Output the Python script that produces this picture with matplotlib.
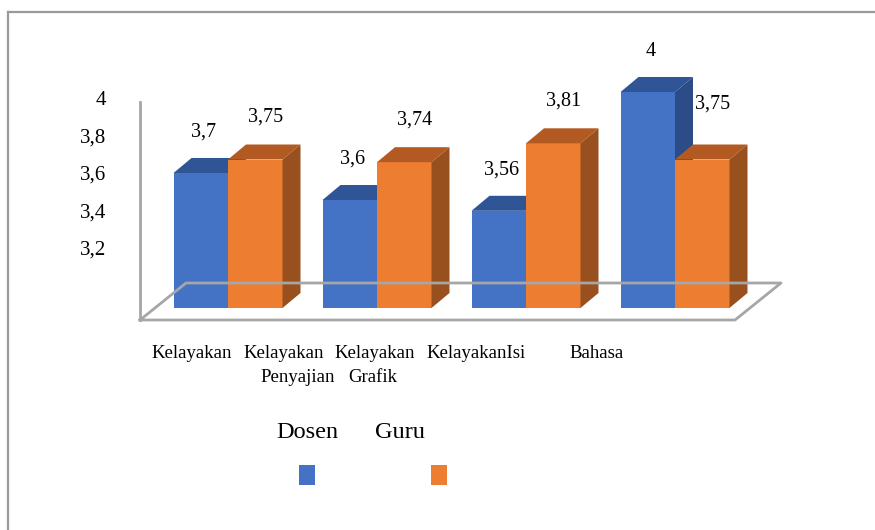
import matplotlib
matplotlib.use("Agg")
import matplotlib.pyplot as plt
from matplotlib.patches import Polygon, Rectangle
from matplotlib.lines import Line2D

# ---- data ----
series_names = ["Dosen", "Guru"]
dosen = [3.70, 3.60, 3.56, 4.00]
guru = [3.75, 3.74, 3.81, 3.75]
dosen_labels = ["3,7", "3,6", "3,56", "4"]
guru_labels = ["3,75", "3,74", "3,81", "3,75"]
tick_values = [3.2, 3.4, 3.6, 3.8, 4.0]
tick_labels = ["3,2", "3,4", "3,6", "3,8", "4"]
category_line1 = ["Kelayakan", "Kelayakan", "Kelayakan", "KelayakanIsi", "Bahasa"]
category_line2 = ["", "Penyajian", "Grafik", "", ""]

# ---- style ----
W, H = 875, 530
FONT = "Liberation Serif"
front_cols = ["#4472C4", "#ED7D31"]
top_cols = ["#2F5597", "#B35A22"]
side_cols = ["#2B4C86", "#99501F"]
grid_col = "#A6A6A6"

def fx(px):
    return px / W

def fy(py):
    return 1 - py / H

fig = plt.figure(figsize=(W / 100, H / 100), dpi=100)
fig.patch.set_facecolor("white")

# main axes: x = category index, y = value
ax = fig.add_axes([0, 0, 1, 1])
ax.set_xlim(-228 / 149, (W - 228) / 149)
base = 3.2
kpx = 270.0
ax.set_ylim(base - (H - 308) / kpx, base + 308 / kpx)
ax.axis("off")

bw = 54.5 / 149
ddx = 18 / 149
ddy = 15 / kpx

# floor / wall decorations (in figure fraction)
floor = [(140, 320), (735, 320), (781, 283), (186, 283), (140, 320)]
fig.add_artist(Line2D([fx(p[0]) for p in floor], [fy(p[1]) for p in floor],
                      color=grid_col, lw=2.0, zorder=1))
fig.add_artist(Line2D([fx(140), fx(140)], [fy(102), fy(320)], color=grid_col, lw=2.0, zorder=1))
# outer border (top and left visible)
fig.add_artist(Line2D([fx(8), fx(W)], [fy(12), fy(12)], color="#9A9A9A", lw=1.6, zorder=1))
fig.add_artist(Line2D([fx(8), fx(8)], [fy(12), fy(H)], color="#9A9A9A", lw=1.6, zorder=1))

def draw_bar(xc, val, si, z):
    xl, xr = xc - bw / 2, xc + bw / 2
    ax.bar(xc, val - base, bottom=base, width=bw, color=front_cols[si], zorder=z, linewidth=0)
    ax.add_patch(Polygon([(xl, val), (xr, val), (xr + ddx, val + ddy), (xl + ddx, val + ddy)],
                         closed=True, facecolor=top_cols[si], edgecolor="none", zorder=z))
    ax.add_patch(Polygon([(xr, base), (xr + ddx, base + ddy), (xr + ddx, val + ddy), (xr, val)],
                         closed=True, facecolor=side_cols[si], edgecolor="none", zorder=z))

for i, (d, g) in enumerate(zip(dosen, guru)):
    draw_bar(i - bw / 2, d, 0, 3 + 2 * i)
    draw_bar(i + bw / 2, g, 1, 4 + 2 * i)

# value labels
for i, (d, g) in enumerate(zip(dosen, guru)):
    ax.annotate(dosen_labels[i], xy=(i - bw / 2, d), xytext=(3 * 0.72, 41 * 0.72),
                textcoords="offset points", ha="center", va="center",
                fontsize=14.5, family=FONT, zorder=20)
    extra = 13 if i == len(guru) - 1 else 0
    ax.annotate(guru_labels[i], xy=(i + bw / 2, g), xytext=(10 * 0.72, (42 + extra) * 0.72),
                textcoords="offset points", ha="center", va="center",
                fontsize=14.5, family=FONT, zorder=20)

# value-axis tick labels (back-wall scale)
ax2 = fig.add_axes([fx(113), 0, 0.01, 1])
ax2.set_ylim(3.2 - (H - 248) / 187.5, 3.2 + 248 / 187.5)
ax2.set_yticks(tick_values)
ax2.set_yticklabels(tick_labels, family=FONT, fontsize=15)
ax2.tick_params(axis="y", length=0, pad=5)
ax2.set_xticks([])
for s in ax2.spines.values():
    s.set_visible(False)
ax2.patch.set_alpha(0)

# category labels (two rows, as laid out in the reference)
line1_x = [192, 284, 375, 476, 597]
line2_x = [0, 298, 373, 0, 0]
for t1, t2, x1, x2 in zip(category_line1, category_line2, line1_x, line2_x):
    fig.text(fx(x1), fy(353), t1, ha="center", va="center", fontsize=13.5, family=FONT)
    if t2:
        fig.text(fx(x2), fy(378), t2, ha="center", va="center", fontsize=13.5, family=FONT)

# legend
leg_text = [(307, 432), (400, 432)]
leg_box = [(299, 465), (431, 465)]
for si, name in enumerate(series_names):
    fig.text(fx(leg_text[si][0]), fy(leg_text[si][1]), name, ha="center", va="center",
             fontsize=17.5, family=FONT)
    bx, by = leg_box[si]
    fig.add_artist(Rectangle((fx(bx), fy(by + 20)), 15.5 / W, 20 / H, transform=fig.transFigure,
                             facecolor=front_cols[si], edgecolor="none"))

fig.savefig("out.png", dpi=100, facecolor="white")
